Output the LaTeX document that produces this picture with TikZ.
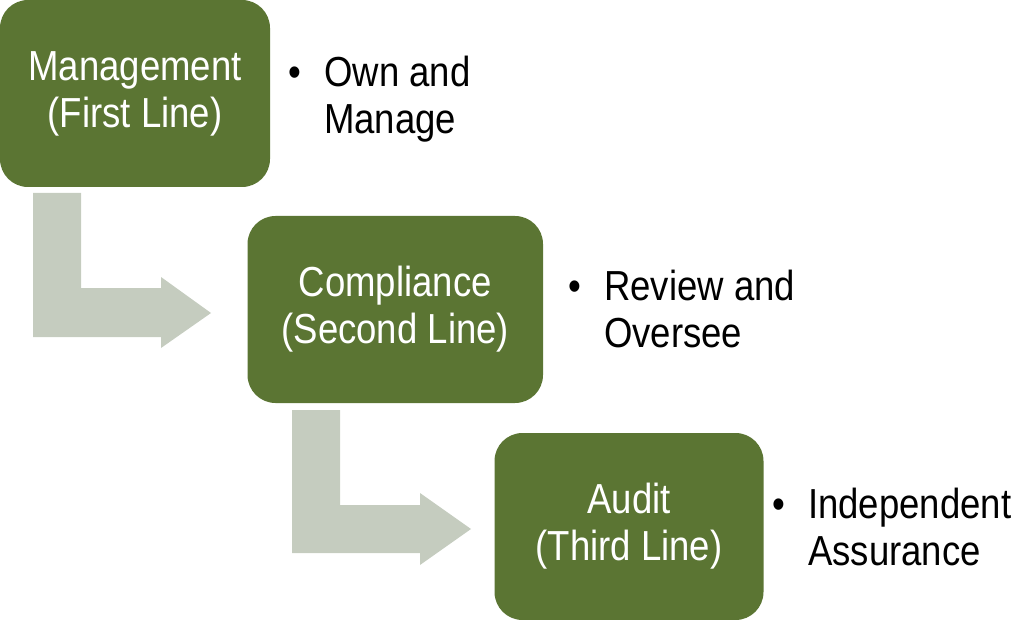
\documentclass[tikz,border=0pt]{standalone}
\usepackage{fontspec}
\setmainfont{Liberation Sans}[FakeStretch=0.87]
\definecolor{boxgreen}{RGB}{91,117,51}
\definecolor{arrowgrey}{RGB}{197,204,191}
\tikzset{
  linebox/.style={fill=boxgreen, draw=none, rounded corners=28pt, minimum height=187pt,
    text=white, align=center, inner sep=0pt, font=\fontsize{42}{47}\selectfont},
  bentarrow/.style={fill=arrowgrey, draw=none},
  bullettext/.style={anchor=base west, inner sep=0pt, text=black, font=\fontsize{42}{47}\selectfont}
}
\newcommand{\bulletlines}[2]{\begin{tabular}[t]{@{}l@{}l@{}}\makebox[36pt][l]{\textbullet}&#1\\&#2\end{tabular}}
\begin{document}
\begin{tikzpicture}[x=1pt,y=-1pt]
\useasboundingbox (0,0) rectangle (1019,620);
% bent arrows
\fill[bentarrow] (33,193) -- (81,193) -- (81,288) -- (161,288) -- (161,277) -- (211,313) -- (161,348) -- (161,337) -- (33,337) -- cycle;
\fill[bentarrow] (292,410) -- (340,410) -- (340,505) -- (420,505) -- (420,493) -- (471,529) -- (420,565) -- (420,553) -- (292,553) -- cycle;
% boxes
\node[linebox, minimum width=270pt] (first) at (135,93.5) {Management\\(First Line)};
\node[linebox, minimum width=295.5pt] (second) at (395.25,309.5) {Compliance\\(Second Line)};
\node[linebox, minimum width=269pt] (third) at (629,526.5) {Audit\\(Third Line)};
% bullet texts
\node[bullettext] (t1) at (288,87) {\bulletlines{Own and}{Manage}};
\node[bullettext] (t2) at (568,300) {\bulletlines{Review and}{Oversee}};
\node[bullettext] (t3) at (772,518) {\bulletlines{Independent}{Assurance}};
\end{tikzpicture}
\end{document}
